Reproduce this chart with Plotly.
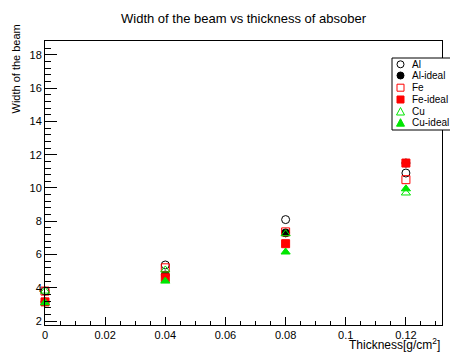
import plotly.graph_objects as go

thickness = [0.0, 0.04, 0.08, 0.12]
al = [3.8, 5.37, 8.1, 10.9]
al_ideal = [3.15, 4.77, 7.3, 11.5]
fe = [3.8, 5.2, 7.36, 10.5]
fe_ideal = [3.15, 4.6, 6.65, 11.5]
cu = [3.8, 5.07, 7.25, 9.7]
cu_ideal = [3.1, 4.4, 6.15, 9.95]

GREEN = "#00e600"
series = [
    ("Al", al, "circle-open", "black"),
    ("Al-ideal", al_ideal, "circle", "black"),
    ("Fe", fe, "square-open", "#ff0000"),
    ("Fe-ideal", fe_ideal, "square", "#ff0000"),
    ("Cu", cu, "triangle-up-open", GREEN),
    ("Cu-ideal", cu_ideal, "triangle-up", GREEN),
]

OFF = 8  # page body margin
W, H = 450, 345
L, R, T, B = 37, 16, 33, 28
PW, PH = W - L - R, H - T - B


def px(s):
    return (s - OFF - L) / PW


def py(s):
    return (H - B - (s - OFF)) / PH


fig = go.Figure()
for name, vals, sym, col in series:
    fig.add_trace(go.Scatter(
        x=thickness, y=vals, mode="markers", name=name,
        marker=dict(symbol=sym, color=col, size=8,
                    line=dict(color=col, width=1)),
        cliponaxis=False,
    ))

font = "Liberation Sans, Arial, sans-serif"
fig.update_layout(
    width=W, height=H,
    margin=dict(l=L, r=R, t=T, b=B, autoexpand=False),
    paper_bgcolor="white", plot_bgcolor="white",
    font=dict(family=font, size=11, color="black"),
    showlegend=False,
    title=dict(text="Width of the beam vs thickness of absober",
               x=0.5, xanchor="center", y=1 - (18 - OFF) / H, yanchor="middle",
               xref="paper",
               font=dict(size=13, family=font)),
)
fig.update_xaxes(range=[0, 0.132], dtick=0.02, tick0=0, showgrid=False,
                 zeroline=False, showline=True, linecolor="black", mirror=True,
                 ticks="inside", ticklen=8, tickcolor="black", tickangle=0,
                 tickfont=dict(size=11),
                 minor=dict(dtick=0.005, ticks="inside", ticklen=4, tickcolor="black"))
fig.update_yaxes(range=[1.76, 18.84], dtick=2, tick0=0, showgrid=False,
                 zeroline=False, showline=True, linecolor="black", mirror=True,
                 ticks="inside", ticklen=12, tickcolor="black",
                 tickfont=dict(size=11),
                 minor=dict(dtick=0.4, ticks="inside", ticklen=6, tickcolor="black"))

fig.add_annotation(text="Width of the beam", textangle=-90,
                   xref="paper", yref="paper", x=px(15), y=py(23),
                   xanchor="center", yanchor="top", showarrow=False,
                   font=dict(size=11, family=font))
fig.add_annotation(text="Thickness[g/cm<sup>2</sup>]",
                   xref="paper", yref="paper", x=1.0, y=py(343.5),
                   xanchor="right", yanchor="middle", showarrow=False,
                   font=dict(size=12, family=font))

# Legend box (drawn manually to match compact ROOT legend)
fig.add_shape(type="rect", xref="paper", yref="paper",
              x0=px(392), x1=px(457), y0=py(130), y1=py(58),
              line=dict(color="black", width=1), fillcolor="white", layer="above")
row_y = [64.3, 75.5, 87.7, 99.5, 111.5, 122.7]
mx = 400.5
for (name, vals, sym, col), yy in zip(series, row_y):
    filled = not sym.endswith("open")
    fc = col if filled else "rgba(0,0,0,0)"
    if sym.startswith("circle"):
        fig.add_shape(type="circle", xref="paper", yref="paper",
                      x0=px(mx - 3.5), x1=px(mx + 3.5), y0=py(yy + 3.5), y1=py(yy - 3.5),
                      line=dict(color=col, width=1), fillcolor=fc, layer="above")
    elif sym.startswith("square"):
        fig.add_shape(type="rect", xref="paper", yref="paper",
                      x0=px(mx - 3.5), x1=px(mx + 3.5), y0=py(yy + 3.5), y1=py(yy - 3.5),
                      line=dict(color=col, width=1), fillcolor=fc, layer="above")
    else:
        path = "M {} {} L {} {} L {} {} Z".format(
            px(mx - 4), py(yy + 3.5), px(mx + 4), py(yy + 3.5), px(mx), py(yy - 4))
        fig.add_shape(type="path", xref="paper", yref="paper", path=path,
                      line=dict(color=col, width=1), fillcolor=fc, layer="above")
    fig.add_annotation(text=name, xref="paper", yref="paper",
                       x=px(409.5), y=py(yy), xanchor="left", yanchor="middle",
                       showarrow=False, font=dict(size=10, family=font))

fig.write_html("out.html")
